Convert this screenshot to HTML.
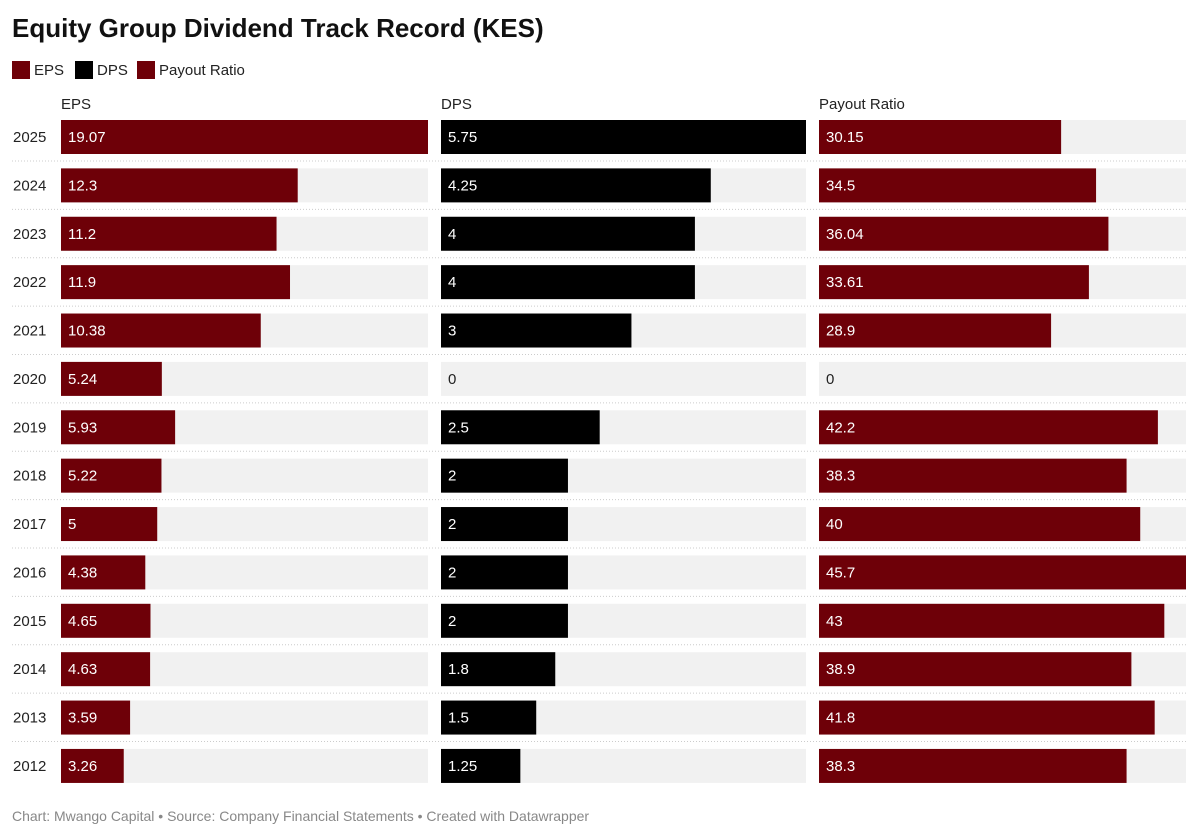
<!DOCTYPE html>
<html><head><meta charset="utf-8"><style>
body{margin:0;background:#fff;font-family:"Liberation Sans",sans-serif;color:#222;}
#wrap{position:relative;width:1200px;height:838px;overflow:hidden;}
.t{position:absolute;white-space:nowrap;}
.lg{position:absolute;top:0;white-space:nowrap;}
</style></head><body>
<div id="wrap">
<div class="t" style="left:12px;top:13px;font-size:26px;font-weight:bold;color:#111;letter-spacing:0px;">Equity Group Dividend Track Record (KES)</div>
<div style="position:absolute;left:12px;top:61px;font-size:15px;">
<span class="lg" style="left:0;"><span style="display:inline-block;width:18px;height:18px;background:#6e0008;vertical-align:-4px;margin-right:4px"></span>EPS</span>
<span class="lg" style="left:63px;"><span style="display:inline-block;width:18px;height:18px;background:#000;vertical-align:-4px;margin-right:4px"></span>DPS</span>
<span class="lg" style="left:125px;"><span style="display:inline-block;width:18px;height:18px;background:#6e0008;vertical-align:-4px;margin-right:4px"></span>Payout Ratio</span>
</div>
<svg id="svg" width="1200" height="838" style="position:absolute;left:0;top:0"></svg>
<div class="t" style="left:12px;top:808px;font-size:14px;color:#888;">Chart: Mwango Capital • Source: Company Financial Statements • Created with Datawrapper</div>
</div>
<script>
const years=["2025","2024","2023","2022","2021","2020","2019","2018","2017","2016","2015","2014","2013","2012"];
const eps=[19.07,12.3,11.2,11.9,10.38,5.24,5.93,5.22,5,4.38,4.65,4.63,3.59,3.26];
const dps=[5.75,4.25,4,4,3,0,2.5,2,2,2,2,1.8,1.5,1.25];
const payout=[30.15,34.5,36.04,33.61,28.9,0,42.2,38.3,40,45.7,43,38.9,41.8,38.3];
const columns=[{name:"EPS",vals:eps,x:61,w:367,color:"#6e0008"},{name:"DPS",vals:dps,x:441,w:365,color:"#000"},{name:"Payout Ratio",vals:payout,x:819,w:367,color:"#6e0008"}];
const H=34,top0=120,pitch=48.38;
const svg=document.getElementById('svg');const NS="http://www.w3.org/2000/svg";
function mk(tag,attrs,txt){const e=document.createElementNS(NS,tag);for(const k in attrs)e.setAttribute(k,attrs[k]);if(txt!==undefined)e.textContent=txt;svg.appendChild(e);return e;}
function yPos(i){return top0+i*pitch;}
years.forEach((yr,i)=>{
  const y=yPos(i);
  const t=mk('text',{x:13,y:y+H/2+5,'font-size':15,fill:'#222','font-family':'Liberation Sans, sans-serif'},yr);
  
  
  if(i<years.length-1){
    const l=mk('line',{x1:12,x2:1188,y1:y+H+7,y2:y+H+7,stroke:'#ccc','stroke-dasharray':'1,2'});
    
    
  }
});
columns.forEach(c=>{
  const max=Math.max(...c.vals);
  const xs=v=>v/max*c.w;
  const h=mk('text',{x:c.x,y:109,'font-size':15,fill:'#222','font-family':'Liberation Sans, sans-serif'},c.name);
  
  
  c.vals.forEach((v,i)=>{
    const y=yPos(i);
    const bg=mk('rect',{x:c.x,y:y,width:c.w,height:H,fill:'#f1f1f1'});
    
    
    const r=mk('rect',{x:c.x,y:y,width:xs(v),height:H,fill:c.color});
    
    
    const lb=mk('text',{x:c.x+7,y:y+H/2+5,'font-size':15,fill:v>0?'#fff':'#222','font-family':'Liberation Sans, sans-serif'},String(v));
    
    
  });
});
</script>
</body></html>
